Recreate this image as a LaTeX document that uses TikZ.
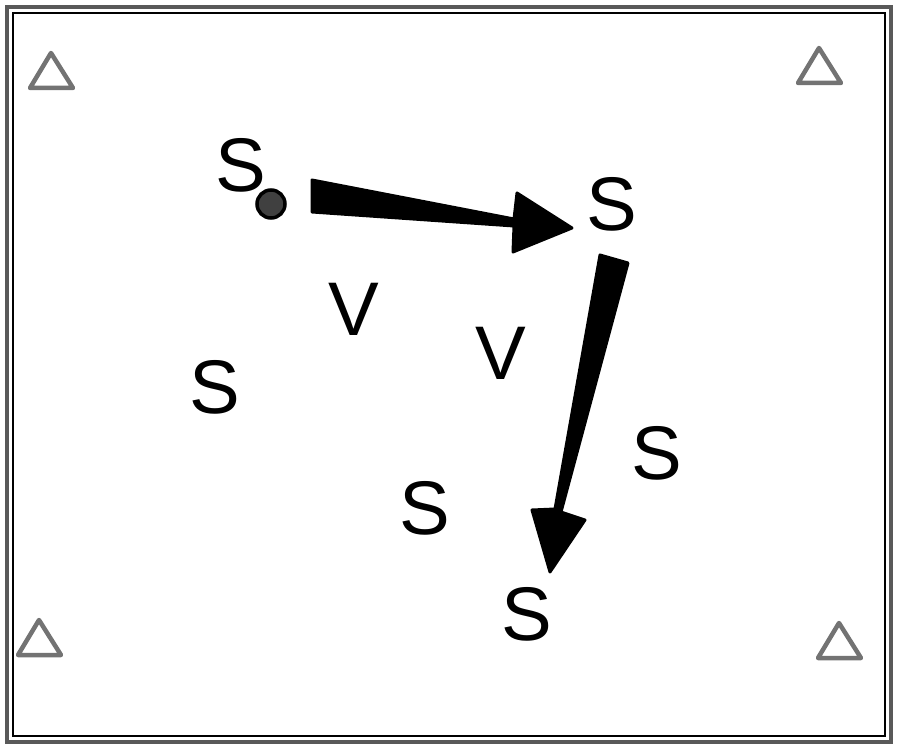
\documentclass[tikz,border=0pt]{standalone}
\usepackage{fontspec}
\setmainfont{Liberation Sans}
\usepackage{xcolor}
\usepackage{tikz}
\usetikzlibrary{
  positioning,
  calc
}

\begin{document}
\begin{tikzpicture}[x=1pt,y=-1pt,
  player/.style={font=\fontsize{76}{76}\selectfont,inner sep=0pt},
  cone/.style={draw=black!55,line width=4.5pt,line join=round},
  run/.style={draw,fill,line width=3pt,line join=round}]
  \useasboundingbox (0,0) rectangle (900,752);

  \draw[black!65,line width=4.5pt] (7,7) rectangle (891,742);
  \draw[line width=1.3pt] (13,13) rectangle (885,736);

  \foreach \k/\x/\y in {1/51/53,2/819/48,3/39/620,4/839/623}
  \coordinate (C_\k) at (\x,\y);

  \foreach \k in {1,...,4} \draw[cone] (C_\k) -- ++(-21,35) -- ++(43,0) -- cycle;

  \foreach \k/\x/\y in {1/241/165,2/612/204,3/215/387,4/657/453,5/425/508,6/527/614}
  \node[player] (S_\k) at (\x,\y) {S};

  \foreach \k/\x/\y in {1/354/309,2/501/353}
  \node[player] (V_\k) at (\x,\y) {V};

  \node[circle,draw,line width=3.5pt,fill=black!75,minimum size=28pt,inner sep=0pt] (ball) at (271,204) {};

  \coordinate (P_1) at (572,228);
  \coordinate (P_2) at (550,572);

  \filldraw[run] (312,180) -- (514,219) -- (517,193) -- (P_1) -- (513,252) -- (514,226) -- (312,212) -- cycle;
  \filldraw[run] (600,255) -- (628,263) -- (561,512) -- (585,520) -- (P_2) -- (532,510) -- (555,509) -- cycle;
\end{tikzpicture}
\end{document}
